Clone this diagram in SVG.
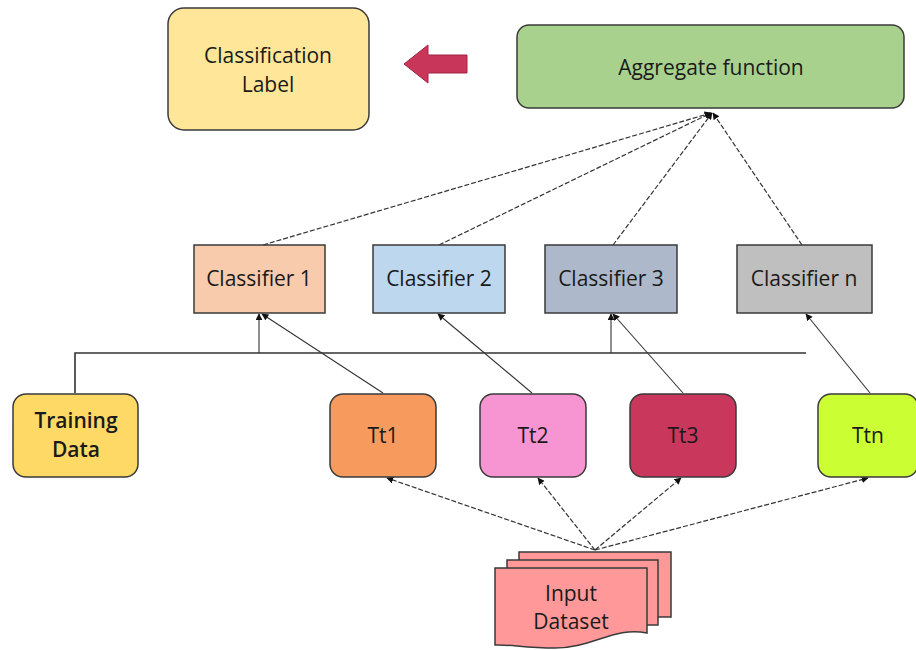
<svg xmlns="http://www.w3.org/2000/svg" width="916" height="650" viewBox="0 0 916 650">
<defs>
<marker id="ah" viewBox="0 0 10 10" refX="9" refY="5" markerWidth="7" markerHeight="7" orient="auto" markerUnits="userSpaceOnUse">
<path d="M0,0 L10,5 L0,10 Z" fill="#111"/>
</marker>
<style>
text{font-family:"Open Sans",Lato,"Liberation Sans",sans-serif;font-size:21px;fill:#1a1a1a;text-anchor:middle}
.box{stroke:#3a3a3a;stroke-width:1.5}
.dash{fill:none;stroke:#333;stroke-width:1.2;stroke-dasharray:5 2;marker-end:url(#ah)}
.sol{fill:none;stroke:#333;stroke-width:1.1;marker-end:url(#ah)}
.bus{fill:none;stroke:#333;stroke-width:1.6}
</style>
</defs>
<rect width="916" height="650" fill="#fff"/>

<g id="connectors">
<line class="dash" x1="263" y1="245" x2="711" y2="113"/>
<line class="dash" x1="439" y1="245" x2="711" y2="113"/>
<line class="dash" x1="613" y1="245" x2="712" y2="113"/>
<line class="dash" x1="802" y1="245" x2="713" y2="113"/>
<line class="sol" x1="383" y1="393" x2="262" y2="314"/>
<line class="sol" x1="532" y1="393" x2="438" y2="314"/>
<line class="sol" x1="683" y1="393" x2="613" y2="314"/>
<line class="sol" x1="870" y1="393" x2="806" y2="314"/>
<path class="bus" d="M75,393 V353 H806"/>
<line class="sol" x1="259" y1="353" x2="259" y2="314"/>
<line class="sol" x1="611" y1="353" x2="611" y2="314"/>
<line class="dash" x1="595" y1="550" x2="387" y2="478"/>
<line class="dash" x1="595" y1="550" x2="538" y2="478"/>
<line class="dash" x1="595" y1="550" x2="681" y2="478"/>
<line class="dash" x1="595" y1="550" x2="868" y2="478"/>
</g>

<g id="classification-label">
<rect class="box" x="168" y="8" width="201" height="122" rx="16" fill="#FFE699"/>
<text x="268" y="63">Classification</text>
<text x="268" y="92">Label</text>
</g>

<g id="big-arrow">
<path d="M467,55 H428 V45 L404,64 L428,83 V73 H467 Z" fill="#C8375A" stroke="#9E2545" stroke-width="1"/>
</g>

<g id="aggregate">
<rect class="box" x="517" y="25" width="387" height="83" rx="12" fill="#A9D18E"/>
<text x="711" y="75">Aggregate function</text>
</g>

<g id="classifier1">
<rect class="box" x="194" y="245" width="131" height="68" fill="#F8CBAD"/>
<text x="259" y="286">Classifier 1</text>
</g>
<g id="classifier2">
<rect class="box" x="373" y="245" width="132" height="68" fill="#BDD7EE"/>
<text x="439" y="286">Classifier 2</text>
</g>
<g id="classifier3">
<rect class="box" x="545" y="245" width="132" height="68" fill="#ADB9CA"/>
<text x="611" y="286">Classifier 3</text>
</g>
<g id="classifiern">
<rect class="box" x="737" y="245" width="135" height="68" fill="#BFBFBF"/>
<text x="804" y="286">Classifier n</text>
</g>

<g id="training-data">
<rect class="box" x="13" y="394" width="125" height="83" rx="13" fill="#FFD966"/>
<text x="76" y="428" style="font-weight:600">Training</text>
<text x="76" y="457" style="font-weight:600">Data</text>
</g>
<g id="tt1">
<rect class="box" x="330" y="394" width="106" height="83" rx="13" fill="#F79A5E"/>
<text x="383" y="443">Tt1</text>
</g>
<g id="tt2">
<rect class="box" x="480" y="394" width="106" height="83" rx="13" fill="#F795D2"/>
<text x="533" y="443">Tt2</text>
</g>
<g id="tt3">
<rect class="box" x="630" y="394" width="106" height="83" rx="13" fill="#C9375D"/>
<text x="683" y="443">Tt3</text>
</g>
<g id="ttn">
<rect class="box" x="818" y="394" width="100" height="83" rx="13" fill="#CCFF33"/>
<text x="868" y="443">Ttn</text>
</g>

<g id="input-dataset">
<rect class="box" x="519" y="552" width="152" height="65" fill="#FF9999"/>
<rect class="box" x="507" y="560" width="151" height="65" fill="#FF9999"/>
<path class="box" d="M495,568 H647 V633 C615,626 592,648 555,648 C525,648 508,644 495,645 Z" fill="#FF9999"/>
<text x="571" y="601">Input</text>
<text x="571" y="629">Dataset</text>
</g>
</svg>
